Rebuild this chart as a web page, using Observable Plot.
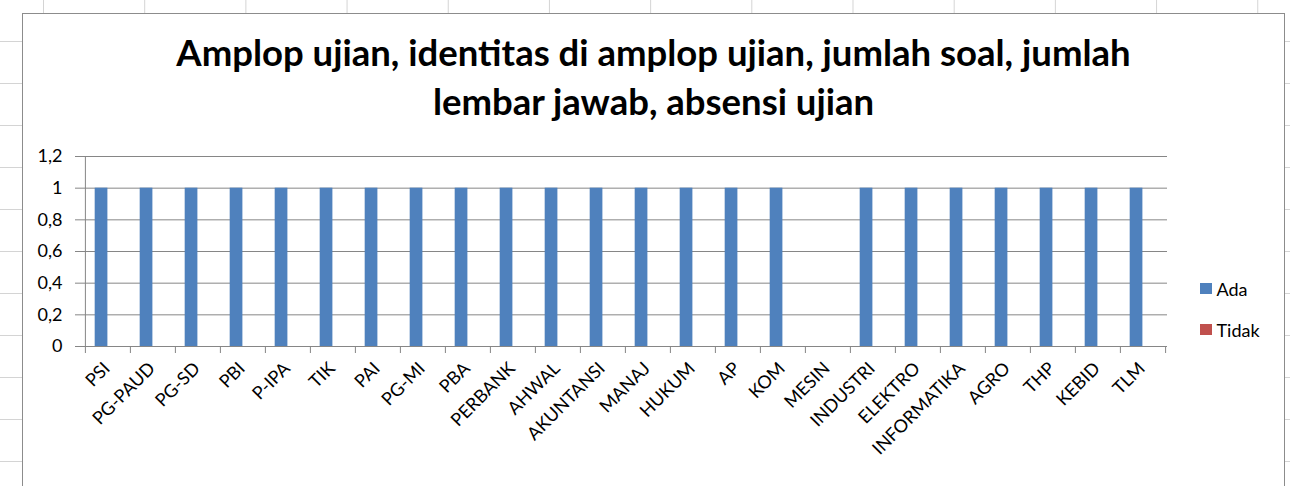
<!DOCTYPE html>
<html><head><meta charset="utf-8">
<script src="https://cdn.jsdelivr.net/npm/d3@7"></script>
<script src="https://cdn.jsdelivr.net/npm/@observablehq/plot@0.6"></script>
<style>
html,body{margin:0;padding:0;background:#fff;}
#page{position:relative;width:1290px;height:486px;overflow:hidden;background-color:#fff;
  background-image:linear-gradient(to right,#d4d4d4 1px,transparent 1px),linear-gradient(to bottom,#d4d4d4 1px,transparent 1px);
  background-size:101.2px 100%,100% 42px;background-position:43px 0,0 41px;}
#frame{position:absolute;left:22px;top:13px;width:1263px;height:520px;box-sizing:border-box;border:1.5px solid #8c8c8c;background:#fff;}
#title{position:absolute;left:22px;top:28px;width:1263px;text-align:center;font:bold 36.5px Lato,sans-serif;line-height:49px;color:#000;}
#chart{position:absolute;left:24px;top:140px;}
#legend{position:absolute;left:1200px;top:277px;font:18px Lato,sans-serif;color:#000;}
#legend .row{display:flex;align-items:center;height:23px;margin-bottom:18px;}
#legend .sw{width:11.5px;height:11.5px;margin-right:5px;}
</style></head>
<body>
<div id="page">
  <div id="frame"></div>
  <div id="title">Amplop ujian, identitas di amplop ujian, jumlah soal, jumlah<br>lembar jawab, absensi ujian</div>
  <div id="chart"></div>
  <div id="legend"></div>
</div>
<script>
const categories = ["PSI","PG-PAUD","PG-SD","PBI","P-IPA","TIK","PAI","PG-MI","PBA","PERBANK","AHWAL","AKUNTANSI","MANAJ","HUKUM","AP","KOM","MESIN","INDUSTRI","ELEKTRO","INFORMATIKA","AGRO","THP","KEBID","TLM"];
const ada   = [1,1,1,1,1,1,1,1,1,1,1,1,1,1,1,1,0,1,1,1,1,1,1,1];
const tidak = [0,0,0,0,0,0,0,0,0,0,0,0,0,0,0,0,0,0,0,0,0,0,0,0];
const series = ["Ada","Tidak"];
const colors = ["#4F81BD","#C0504D"];
const yTicks = [0,0.2,0.4,0.6,0.8,1,1.2];

const width = 1259, marginLeft = 58, marginRight = 116;
const step = (width - marginLeft - marginRight) / categories.length;
const b = step / 3.5;
const rowsAda = categories.map((c,i) => ({cat:c, series:"Ada", value:ada[i]}));
const rowsTidak = categories.map((c,i) => ({cat:c, series:"Tidak", value:tidak[i]}));
const grid = "#868686";

const chart = Plot.plot({
  width, height: 346, marginLeft, marginRight, marginTop: 16, marginBottom: 140,
  style: {fontFamily: "Lato, sans-serif", fontSize: "18px", color: "#000", background: "transparent", overflow: "visible"},
  x: {domain: categories, padding: 0, axis: null},
  y: {domain: [0, 1.2], axis: null},
  color: {domain: series, range: colors},
  marks: [
    Plot.gridY(yTicks, {stroke: grid, strokeOpacity: 1}),
    Plot.barY(rowsAda, {x: "cat", y: "value", fill: "series", insetLeft: 0.75*b, insetRight: step - 1.75*b}),
    Plot.barY(rowsTidak, {x: "cat", y: "value", fill: "series", insetLeft: 1.75*b, insetRight: 0.75*b}),
    Plot.ruleX([categories[0]], {dx: -step/2, y1: 0, y2: 1.2, stroke: grid}),
    Plot.ruleY([0], {stroke: grid}),
    Plot.axisY({ticks: yTicks, tickSize: 7, tickPadding: 13, stroke: grid, label: null, tickFormat: d => String(d).replace(".", ",")}),
    Plot.axisX({ticks: categories, tickSize: 7, tickFormat: () => "", dx: -step/2, stroke: grid, label: null}),
    Plot.axisX({ticks: [categories[categories.length-1]], tickSize: 7, tickFormat: () => "", dx: step/2, stroke: grid, label: null}),
    Plot.axisX({ticks: categories, tickSize: 0, tickPadding: 19, tickRotate: -45, dx: -1, label: null})
  ]
});
document.getElementById("chart").appendChild(chart);

const legend = document.getElementById("legend");
series.forEach((s,i) => {
  const row = document.createElement("div");
  row.className = "row";
  const sw = document.createElement("span");
  sw.className = "sw"; sw.style.background = colors[i];
  const t = document.createElement("span"); t.textContent = s;
  row.appendChild(sw); row.appendChild(t);
  legend.appendChild(row);
});
</script>
</body></html>
